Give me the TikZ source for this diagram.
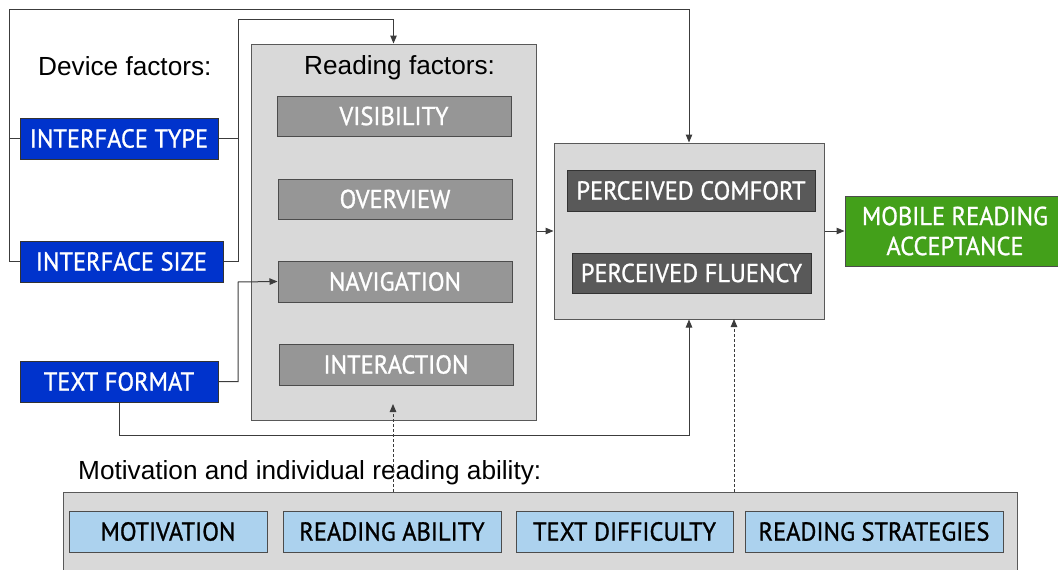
\documentclass[tikz,border=0pt]{standalone}
\usepackage{fontspec}
\setmainfont{Liberation Sans}
\newfontfamily\boxfont[FakeStretch=0.94,FakeBold=1]{PT Sans}
\usetikzlibrary{arrows.meta,calc}
\definecolor{devblue}{RGB}{0,51,204}
\definecolor{panelgray}{RGB}{217,217,217}
\definecolor{midgray}{RGB}{150,150,150}
\definecolor{darkgray2}{RGB}{89,89,89}
\definecolor{accgreen}{RGB}{67,160,26}
\definecolor{lightblue}{RGB}{172,210,238}
\definecolor{linegray}{RGB}{60,60,60}
\tikzset{
  base/.style={draw=linegray, line width=1pt, inner sep=0pt, align=center,
    font=\boxfont\fontsize{26}{30}\selectfont},
  devbox/.style={base, fill=devblue, text=white, draw=black!80},
  panel/.style={draw=darkgray2, line width=1pt, fill=panelgray, inner sep=0pt},
  readbox/.style={base, fill=midgray, text=white, draw=black!70},
  percbox/.style={base, fill=darkgray2, text=white, draw=black!80},
  accbox/.style={base, fill=accgreen, text=white, draw=black!70},
  motbox/.style={base, fill=lightblue, text=black, draw=black!70},
  heading/.style={font=\fontsize{26.2}{28}\selectfont, inner sep=0pt, anchor=base west},
  conn/.style={draw=linegray, line width=1pt},
  arr/.style={conn, -{Triangle[length=8pt,width=6.5pt]}},
  dashedarr/.style={arr, dash pattern=on 3pt off 2pt}
}
\begin{document}
\begin{tikzpicture}[x=1pt,y=-1pt]
\useasboundingbox (0,0) rectangle (1058,570);
% panels
\node[panel, minimum width=285pt, minimum height=376pt] (reading) at (393.5,232) {};
\node[panel, minimum width=270pt, minimum height=176pt] (perc) at (689,231) {};
\node[panel, minimum width=954pt, minimum height=108pt] (mot) at (540,546) {};
% headings
\node[heading] (devlbl) at (38,75) {Device factors:};
\node[heading] (readlbl) at (304,74) {Reading factors:};
\node[heading] (motlbl) at (78,479) {Motivation and individual reading ability:};
% device factors
\node[devbox, minimum width=198pt, minimum height=41pt] (itype) at (119,138.5) {INTERFACE TYPE};
\node[devbox, minimum width=203pt, minimum height=41pt] (isize) at (121.5,261.5) {INTERFACE SIZE};
\node[devbox, minimum width=198pt, minimum height=41pt] (tformat) at (119,381.5) {TEXT FORMAT};
% reading factors
\node[readbox, minimum width=234pt, minimum height=40pt] (vis) at (394,116) {VISIBILITY};
\node[readbox, minimum width=234pt, minimum height=40pt] (over) at (395,199) {OVERVIEW};
\node[readbox, minimum width=234pt, minimum height=41pt] (nav) at (395,281.5) {NAVIGATION};
\node[readbox, minimum width=234pt, minimum height=41pt] (inter) at (396,364.5) {INTERACTION};
% perceived
\node[percbox, minimum width=248pt, minimum height=41pt] (comfort) at (691,190.5) {PERCEIVED COMFORT};
\node[percbox, minimum width=239pt, minimum height=40pt] (fluency) at (691.5,273) {PERCEIVED FLUENCY};
% acceptance
\node[accbox, minimum width=220pt, minimum height=70pt] (mobile) at (955,231) {MOBILE READING\\ACCEPTANCE};
% motivation
\node[motbox, minimum width=198pt, minimum height=41pt] (motiv) at (168,531.5) {MOTIVATION};
\node[motbox, minimum width=218pt, minimum height=41pt] (rabil) at (392,531.5) {READING ABILITY};
\node[motbox, minimum width=217pt, minimum height=41pt] (tdiff) at (624.5,531.5) {TEXT DIFFICULTY};
\node[motbox, minimum width=258pt, minimum height=41pt] (rstrat) at (874,531.5) {READING STRATEGIES};
% junction coordinates
\coordinate (tl) at (9,9.5);
\coordinate (j1) at (238,19.5);
\coordinate (j2) at (238,282);
\coordinate (j3) at (689,435);
\coordinate (d1) at (393,404);
\coordinate (d2) at (734,319);
% connectors
\draw[arr] (isize.west) -| (tl) -| (perc.north);
\draw[conn] (itype.west) -- (itype.west -| tl);
\draw[arr] (isize.east) -| (j1) -| (reading.north);
\draw[conn] (itype.east) -- (itype.east -| j1);
\draw[arr] (tformat.east) -| (j2) -- (nav.west);
\draw[arr] (tformat.south) |- (j3) -- (perc.south);
\draw[arr] (reading.east |- perc.west) -- (perc.west);
\draw[arr] (perc.east) -- (mobile.west);
\draw[dashedarr] (mot.north -| d1) -- (d1);
\draw[dashedarr] (mot.north -| d2) -- (d2);
\end{tikzpicture}
\end{document}
